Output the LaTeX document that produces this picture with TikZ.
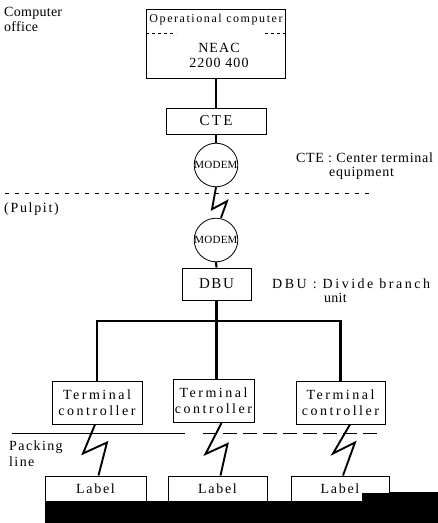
\documentclass[tikz,border=0pt]{standalone}
\usepackage{fontspec}
\setmainfont{Liberation Serif}
\newcommand{\tfont}[3]{\fontsize{#1pt}{#2pt}\selectfont\addfontfeature{LetterSpace=#3}}
\begin{document}
\begin{tikzpicture}[x=1pt,y=-1pt,
  box/.style={draw, line width=1pt, inner sep=0},
  conn/.style={line width=2.1pt},
  bolt/.style={line width=1.9pt, line join=miter},
  txt/.style={inner sep=0, text=black},
  modem/.style={circle, draw, line width=0.8pt, minimum size=42pt, inner sep=0, font=\tfont{11}{12}{2}},
  tc/.style={box, minimum height=43pt, align=center, font=\tfont{14}{16}{18}},
  lab/.style={box, minimum height=26pt, font=\tfont{14}{15}{12}},
  sep/.style={line width=0.6pt}
]
\useasboundingbox (0,0) rectangle (438,523);
\fill[white] (0,0) rectangle (438,523);

% computer office
\node[txt, font=\tfont{14}{15}{2}, anchor=north west, align=left] (office) at (4,7) {Computer\\office};
\node[box, minimum width=139pt, minimum height=69pt] (oc) at (216,43.5) {};
\draw[sep, dash pattern=on 3pt off 3pt] (oc.west |- 0,33) -- ++(30,0);
\draw[sep, dash pattern=on 3pt off 3pt] (oc.east |- 0,33) -- ++(-22,0);
\node[txt, font=\tfont{12}{13}{13}] (ochead) at (216,20) {Operational computer};
\node[txt, font=\tfont{14}{15}{8}, align=center] (neac) at (219,55.5) {NEAC\\2200 400};

\node[box, minimum width=100pt, minimum height=26pt, font=\tfont{15}{16}{15}] (cte) at (216,121) {CTE};
\draw[conn] (cte.north |- oc.south) -- (cte.north);
\node[modem] (m1) at (216,165) {MODEM};
\draw[conn] (cte.south) -- (m1.north);
\node[txt, font=\tfont{14}{14}{5}, anchor=west, align=left] (ctelab) at (296,166) {CTE : Center terminal\\\hspace{33pt}equipment};

\draw[line width=0.5pt, dash pattern=on 4pt off 6pt] (5,193) -- (372,193);
\node[txt, font=\tfont{14}{15}{12}, anchor=west] (pulpit) at (4,209) {(Pulpit)};

\node[modem] (m2) at (216,240) {MODEM};
\draw[bolt] (m1.south) -- ++(-4,22) -- ++(15,-8) -- ([xshift=5pt]m2.north);

\node[box, minimum width=69pt, minimum height=32pt, font=\tfont{15}{16}{10}] (dbu) at (216.5,284) {DBU};
\draw[conn] (m2.south) -- (dbu.north);
\node[txt, font=\tfont{14}{14}{18}, anchor=north west, align=left] (dbulab) at (272,279) {DBU : Divide branch\\\hspace{52pt}{\addfontfeature{LetterSpace=2}unit}};

% terminal controllers
\node[tc, minimum width=90pt] (tc1) at (97,402.5) {Terminal\\controller};
\node[tc, minimum width=81pt] (tc2) at (213.5,401) {Terminal\\controller};
\node[tc, minimum width=89pt] (tc3) at (340.5,402.5) {Terminal\\controller};
\coordinate (bus) at (216.5,321);
\draw[conn] (dbu.south) -- (dbu.south |- tc2.north);
\draw[conn] (tc1.north) -- (tc1.north |- bus) -- (tc3.north |- bus) -- (tc3.north);

% packing line
\draw[sep] (12,433) -- (185,433);
\draw[sep, dash pattern=on 14pt off 6pt] (203,433) -- (378,433);
\node[txt, font=\tfont{14}{16}{10}, anchor=north west, align=left] (packing) at (9,441) {Packing\\line};

% labels
\node[lab, minimum width=101pt] (lab1) at (95.5,489) {Label};
\node[lab, minimum width=99pt] (lab2) at (217.5,489) {Label};
\node[lab, minimum width=98pt] (lab3) at (340,489) {Label};
\draw[bolt] ([xshift=-2pt]tc1.south) -- ++(-12,29) -- ++(24,-11) -- ([xshift=3pt]lab1.north);
\draw[bolt] ([xshift=8pt]tc2.south) -- ++(-16,31) -- ++(22,-10) -- ([xshift=3pt]lab2.north);
\draw[bolt] ([xshift=9.5pt]tc3.south) -- ++(-17,29) -- ++(22,-11) -- ([xshift=3pt]lab3.north);

\fill[black] (45,501) rectangle (438,523);
\fill[black] (362,492.5) rectangle (438,502);
\draw[line width=0.9pt] (lab3.east |- 0,492) -- (438,492);
\end{tikzpicture}
\end{document}
